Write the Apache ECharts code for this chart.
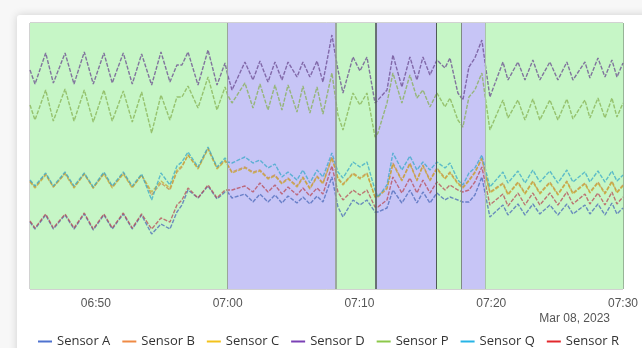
<!DOCTYPE html>
<html>
<head>
<meta charset="utf-8">
<script src="https://cdn.jsdelivr.net/npm/echarts@6/dist/echarts.min.js"></script>
<style>
  html, body { margin: 0; padding: 0; background: #f7f7f7; overflow: hidden; }
  .card { position: absolute; left: 17px; top: 15px; width: 640px; height: 345px; background: #fff;
          border-radius: 3px; box-shadow: 0 0 9px rgba(0,0,0,0.16); }
  #chart { position: absolute; left: 0; top: 0; width: 642px; height: 348px; }
</style>
</head>
<body>
<div class="card"></div>
<div id="chart"></div>
<script>
// minutes after 06:45, Mar 08 2023 (shared sample times for all sensors)
const minutes = [0, 0.38, 1.19, 1.77, 2.66, 3.34, 4.12, 4.80, 5.61, 6.24, 7.08, 7.76, 8.47, 9.23, 9.94, 10.62, 11.15, 11.53, 11.99, 12.75, 13.51, 14.19, 14.80, 15.0,
  15.33, 16.31, 16.92, 17.45, 18.06, 18.59, 19.12, 19.58, 20.26, 20.71, 21.24, 21.78, 22.23, 22.91, 23.37,
  23.75, 24.51, 25.04, 25.57, 26.18, 26.40, 27.09, 27.54, 28.22, 28.83, 29.36, 29.82, 30.35, 30.88,
  31.49, 31.87, 32.47, 32.85,
  33.31, 33.76, 34.29, 34.90,
  35.89, 36.27, 37.03, 37.56, 38.16, 38.69, 39.45, 40.06, 40.74, 41.20, 42.11, 42.49, 43.10, 43.63, 44.16, 44.54, 45.0]

const sensorA = [67, 60, 74, 60, 74, 60, 75, 59, 74, 60, 75, 60, 74, 55, 65, 60, 77, 84, 99, 91, 103, 90, 97, 97,
  91, 95, 87, 95, 87, 94, 86, 93, 86, 92, 85, 93, 87, 112, 82,
  72, 89, 84, 89, 77, 77, 81, 99, 86, 99, 86, 97, 86, 96,
  89, 92, 89, 87,
  87, 94, 112, 72,
  84, 74, 85, 74, 85, 75, 84, 74, 85, 75, 84, 75, 85, 74, 86, 75, 81]
const sensorB = [108, 102, 115, 102, 116, 102, 115, 101, 116, 102, 116, 102, 114, 94, 106, 99, 117, 122, 134, 121, 141, 121, 129, 124,
  117, 122, 117, 119, 111, 114, 106, 111, 103, 112, 101, 113, 106, 132, 111,
  105, 116, 111, 116, 92, 93, 101, 126, 109, 126, 109, 124, 109, 121,
  111, 117, 106, 102,
  109, 117, 131, 97,
  106, 95, 107, 96, 108, 96, 107, 95, 108, 96, 106, 97, 107, 96, 108, 97, 104]
const sensorC = [107, 101, 114, 102, 115, 101, 115, 101, 115, 101, 115, 101, 114, 97, 108, 101, 119, 123, 134, 120, 140, 120, 128, 124,
  116, 121, 116, 118, 110, 113, 105, 110, 102, 111, 100, 112, 105, 131, 110,
  104, 115, 110, 115, 92, 92, 100, 125, 108, 125, 108, 123, 108, 120,
  110, 116, 105, 101,
  108, 116, 130, 96,
  105, 94, 106, 95, 107, 95, 106, 94, 107, 95, 105, 96, 106, 95, 107, 96, 103]
const sensorD = [219, 205, 236, 206, 236, 205, 237, 205, 236, 206, 236, 205, 235, 204, 237, 207, 224, 224, 237, 204, 239, 204, 226, 214,
  199, 227, 209, 228, 207, 227, 209, 227, 212, 227, 212, 228, 207, 254, 219,
  196, 232, 218, 232, 186, 189, 199, 234, 202, 232, 209, 232, 214, 229,
  221, 231, 196, 189,
  222, 231, 249, 192,
  227, 209, 227, 209, 229, 209, 227, 209, 227, 209, 227, 211, 231, 212, 229, 212, 226]
const sensorP = [184, 169, 199, 168, 200, 168, 199, 167, 199, 168, 198, 167, 197, 156, 194, 169, 192, 192, 203, 181, 212, 179, 202, 194,
  186, 206, 181, 205, 179, 204, 179, 204, 177, 203, 176, 202, 175, 216, 174,
  159, 196, 184, 196, 152, 156, 186, 216, 186, 214, 191, 199, 182, 196,
  182, 191, 169, 162,
  192, 199, 216, 159,
  189, 171, 189, 169, 190, 169, 189, 169, 190, 170, 189, 171, 191, 171, 191, 172, 186]
const sensorQ = [109, 103, 116, 103, 117, 103, 116, 102, 117, 103, 117, 103, 115, 89, 116, 104, 123, 127, 137, 122, 142, 122, 131, 127,
  126, 132, 126, 129, 121, 125, 112, 117, 109, 119, 106, 119, 112, 136, 117,
  111, 127, 122, 127, 99, 92, 104, 136, 119, 133, 119, 127, 119, 127,
  121, 126, 109, 104,
  116, 121, 134, 102,
  117, 106, 118, 106, 119, 107, 118, 106, 119, 107, 117, 107, 118, 107, 118, 108, 114]
const sensorR = [68, 61, 75, 61, 75, 61, 76, 60, 75, 61, 76, 61, 75, 60, 71, 67, 84, 89, 101, 91, 104, 91, 99, 99,
  99, 103, 97, 106, 97, 104, 95, 102, 94, 101, 93, 101, 95, 123, 97,
  89, 99, 94, 99, 82, 82, 89, 112, 96, 111, 96, 109, 96, 107,
  99, 104, 99, 97,
  99, 107, 122, 84,
  95, 83, 96, 84, 96, 84, 96, 84, 97, 85, 95, 85, 96, 84, 97, 85, 92]

const sensorNames = ['Sensor A', 'Sensor B', 'Sensor C', 'Sensor D', 'Sensor P', 'Sensor Q', 'Sensor R']
// operating states: [start minute, end minute, state]
const bandStart = [0, 15, 23.2, 26.2, 30.85, 32.75, 34.57]
const bandEnd = [15, 23.2, 26.2, 30.85, 32.75, 34.57, 45]
const bandState = ['run', 'idle', 'run', 'idle', 'run', 'idle', 'run']
const tickLabels = ['06:50', '07:00', '07:10', '07:20', '07:30']
const dateLabel = 'Mar 08, 2023'

const base = new Date(2023, 2, 8, 6, 45, 0).getTime()
const toTime = (m) => base + Math.round(m * 60000)

const colors = ['#4f72cf', '#ef8a45', '#f3c21c', '#7a40b5', '#8cc84a', '#27b4e6', '#e2282c']
const lineColors = ['#4a68b8', '#c98a4a', '#c9a830', '#6a4a8f', '#86b050', '#38a8c8', '#b84a55']
const stateColor = { run: '#c6f6c6', idle: '#c7c5f6' }
const edgeColor = ['#9aa69a', '#8f9a8f', '#4f5a55', '#4f5a55', '#7f8a85', '#a9c4a9']

const values = [sensorA, sensorB, sensorC, sensorD, sensorP, sensorQ, sensorR]

const series = sensorNames.map((name, i) => ({
  name,
  type: 'line',
  showSymbol: false,
  z: 3,
  data: minutes.map((m, k) => [toTime(m), values[i][k]]),
  itemStyle: { color: colors[i] },
  lineStyle: { width: 1.4, color: lineColors[i], opacity: 0.75, type: [4, 1.5] },
}))

// background state bands + edges
series[0].markArea = {
  silent: true,
  z: 1,
  data: bandStart.map((s, i) => [
    { xAxis: toTime(s), itemStyle: { color: stateColor[bandState[i]] } },
    { xAxis: toTime(bandEnd[i]) },
  ]),
}
series[0].markLine = {
  silent: true,
  symbol: 'none',
  label: { show: false },
  data: bandStart.slice(1).map((s, i) => ({
    xAxis: toTime(s),
    lineStyle: { color: edgeColor[i], width: i === 1 || i === 2 ? 1.6 : 1, type: 'solid' },
  })),
}

const chart = echarts.init(document.getElementById('chart'), null, { renderer: 'canvas' })
chart.setOption({
  animation: false,
  backgroundColor: 'transparent',
  grid: {
    show: true,
    left: 30,
    right: 19,
    top: 23,
    bottom: 59,
    borderColor: '#a4a4a4',
    borderWidth: 1,
  },
  legend: {
    data: sensorNames,
    left: 33,
    top: 330,
    icon: 'rect',
    itemWidth: 14,
    itemHeight: 2,
    itemGap: 12,
    textStyle: { fontFamily: 'Open Sans', fontSize: 13, color: '#333' },
  },
  graphic: [
    {
      type: 'text',
      right: 32,
      top: 313,
      style: { text: dateLabel, fontFamily: 'Liberation Sans', fontSize: 12, fill: '#555' },
    },
  ],
  xAxis: {
    type: 'time',
    min: base,
    max: toTime(45),
    minInterval: 600000,
    maxInterval: 600000,
    axisLine: { show: false },
    axisTick: { show: true, inside: true, length: 5, lineStyle: { color: '#9db59d' } },
    splitLine: { show: true, lineStyle: { color: 'rgba(110,160,110,0.35)', width: 1 } },
    axisLabel: {
      margin: 9,
      fontFamily: 'Liberation Sans',
      fontSize: 12,
      color: '#555',
      formatter: (v) => {
        const d = new Date(v)
        const s = String(d.getHours()).padStart(2, '0') + ':' + String(d.getMinutes()).padStart(2, '0')
        return tickLabels.includes(s) ? s : ''
      },
    },
  },
  yAxis: {
    type: 'value',
    min: 0,
    max: 266,
    show: false,
    splitLine: { show: false },
  },
  series,
})
</script>
</body>
</html>
